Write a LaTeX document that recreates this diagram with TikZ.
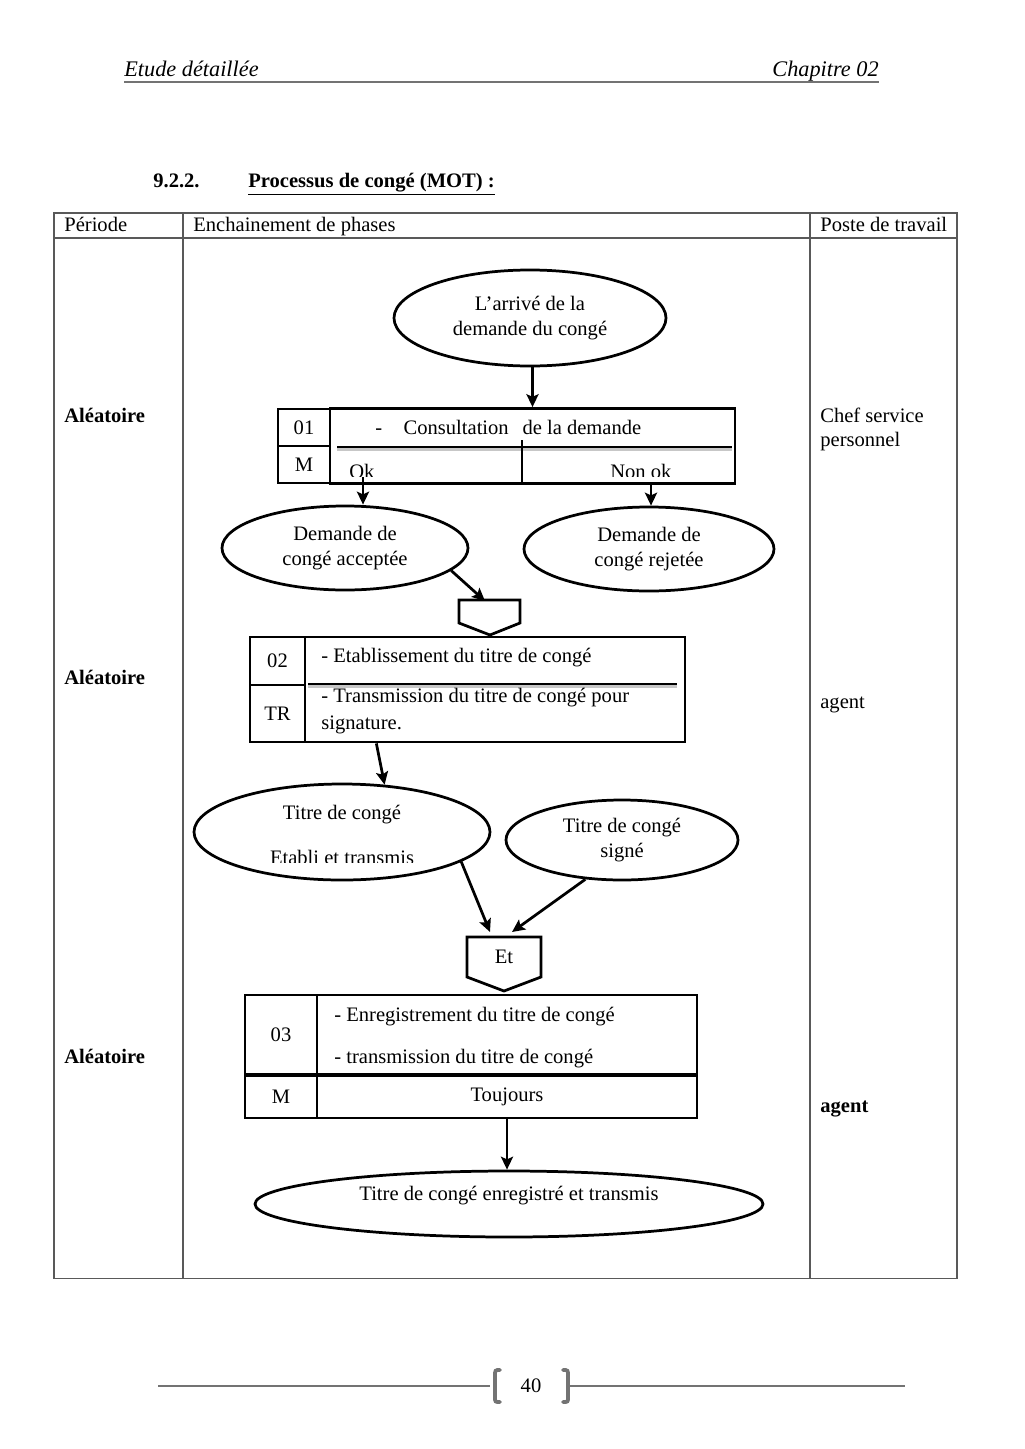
\documentclass[tikz,border=0pt]{standalone}
\usepackage{fontspec}
\setmainfont{Liberation Serif}
\usetikzlibrary{arrows.meta,shapes.geometric,calc}

\def\unitpx{0.5833pt}

\begin{document}
\begin{tikzpicture}[x=0.5833pt,y=-0.5833pt,
            font=\fontsize{12}{15}\selectfont,
            dims/.style 2 args={minimum width=#1*\unitpx,minimum height=#2*\unitpx},
            grid/.style={line width=0.6pt,black!65},
            txt/.style={inner sep=0pt,anchor=base west},
            phase/.style={draw,line width=1.6pt,rectangle,inner sep=0pt},
            event/.style={draw,line width=1.6pt,ellipse,inner sep=0pt,align=center},
            flow/.style={line width=1.6pt,-{Stealth[length=7.5pt,width=7pt,inset=1.5pt]}},
            rule/.style={line width=1.2pt,black!55},
            shade/.style={line width=1.4pt,black!22}
            ]
            \useasboundingbox (0,0) rectangle (1024,1449);

            % page header
            \node[txt,font=\fontsize{13}{15}\selectfont\itshape] (hleft) at (124,77) {Etude détaillée};
            \node[txt,anchor=base east,font=\fontsize{13}{15}\selectfont\itshape] (hright) at (879,77) {Chapitre 02};
            \draw[rule] (124,82) -- (879,82);

            \node[txt,font=\fontsize{12}{15}\selectfont\bfseries] (secnum) at (153,187) {9.2.2.};
            \node[txt,font=\fontsize{12}{15}\selectfont\bfseries] (sectitle) at (248,187) {\underline{Processus de congé (MOT) :}};

            % table
            \draw[grid] (54,213) rectangle (957,1278);
            \draw[grid] (54,238) -- (957,238);
            \draw[grid] (183,213) -- (183,1278);
            \draw[grid] (810,213) -- (810,1278);
            \node[txt] (hper) at (64,231) {Période};
            \node[txt] (hph) at (193,231) {Enchainement de phases};
            \node[txt] (hpos) at (820,231) {Poste de travail};

            \node[txt,font=\fontsize{12}{15}\selectfont\bfseries] (per1) at (64,422) {Aléatoire};
            \node[txt,font=\fontsize{12}{15}\selectfont\bfseries] (per2) at (64,684) {Aléatoire};
            \node[txt,font=\fontsize{12}{15}\selectfont\bfseries] (per3) at (64,1063) {Aléatoire};
            \node[txt,anchor=west,align=left,font=\fontsize{12}{14}\selectfont] (pos1) at (820,429) {Chef service\\personnel};
            \node[txt] (pos2) at (820,708) {agent};
            \node[txt,font=\fontsize{12}{15}\selectfont\bfseries] (pos3) at (820,1112) {agent};

            % phase 01
            \node[event,dims={272}{96}] (arr) at (530,318) {L’arrivé de la\\demande du congé};
            \node[phase,dims={405}{75}] (consult) at (532.5,446) {};
            \node[phase,dims={52}{37}] (c01) at (304,427.5) {01};
            \node[phase,dims={52}{37}] (cm1) at (304,464.5) {M};
            \draw[shade] (337,449.5) -- (732,449.5);
            \draw[line width=1.6pt] (337,447) -- (732,447);
            \draw[line width=1.6pt] (522,440) -- (522,484);
            \node[txt] (cons) at (375,434) {-\hspace{12.5pt}Consultation\hspace{5pt} de la demande};
            \begin{scope}
                \clip (335,450) rectangle (730,476);
                \node[txt] (ok) at (349,478) {Ok};
                \node[txt] (nok) at (610,478) {Non ok};
            \end{scope}
            \draw[flow] (consult.north |- arr.south) -- (consult.north);

            \node[event,dims={246}{84}] (acc) at (345,548) {Demande de\\congé acceptée};
            \node[event,dims={250}{84}] (rej) at (649,549) {Demande de\\congé rejetée};
            \coordinate (okpt) at (363,477);
            \coordinate (nokpt) at (651,484);
            \draw[flow] (okpt) -- (okpt |- acc.north);
            \draw[flow] (nokpt) -- (nokpt |- rej.north);

            % connector to phase 02
            \draw[line width=1.6pt] (459,600) -- (520,600) -- (520,623) -- (490,635) -- (459,623) -- cycle;
            \coordinate (con1) at (490,600);
            \draw[flow] (acc.-12) -- ($(con1)+(-5,1)$);

            % phase 02
            \node[phase,dims={380}{105}] (ph2) at (495,689.5) {};
            \node[phase,dims={55}{48}] (c02) at (277.5,661) {02};
            \node[phase,dims={55}{57}] (ctr) at (277.5,713.5) {TR};
            \draw[shade] (308,686.5) -- (677,686.5);
            \draw[line width=1.6pt] (308,684) -- (677,684);
            \node[txt] (etab) at (321,662) {- Etablissement du titre de congé};
            \node[txt,anchor=west,align=left,font=\fontsize{12}{15.8}\selectfont] (trans) at (321,711) {- Transmission du titre de congé pour\\signature.};

            \node[event,dims={296}{96}] (tetab) at (342,832) {};
            \node[txt,anchor=center] (tetab1) at (342,815) {Titre de congé};
            \begin{scope}
                \clip (200,840) rectangle (480,862);
                \node[txt,anchor=center] (tetab2) at (342,857) {Etabli et transmis};
            \end{scope}
            \node[event,dims={232}{80}] (tsig) at (622,840) {Titre de congé\\signé};
            \draw[flow] ($(ph2.south west)!0.19!(ph2.south east)$) -- (tetab.48);

            % Et connector
            \draw[line width=1.6pt] (467,937) -- (541,937) -- (541,977) -- (504,991) -- (467,977) -- cycle;
            \node[txt,anchor=center] (et) at (504,957) {Et};
            \coordinate (con2) at (504,937);
            \draw[flow] (tetab.-14) -- ($(con2)+(-14,-5)$);
            \draw[flow] (tsig.-133) -- ($(con2)+(8,-5)$);

            % phase 03
            \node[phase,dims={380}{79}] (ph3) at (507,1034.5) {};
            \node[phase,dims={72}{79}] (c03) at (281,1034.5) {03};
            \node[phase,dims={380}{42}] (tj) at (507,1097) {Toujours};
            \node[phase,dims={72}{42}] (cm3) at (281,1097) {M};
            \node[txt] (enr) at (334,1021) {- Enregistrement du titre de congé};
            \begin{scope}
                \clip (325,1040) rectangle (690,1067);
                \node[txt] (tra) at (334,1063) {- transmission du titre de congé};
            \end{scope}

            \node[event,dims={508}{66}] (fin) at (509,1204) {};
            \node[txt,anchor=center] (fintxt) at (509,1196) {Titre de congé enregistré et transmis};
            \draw[flow] (tj.south) -- (tj.south |- fin.north);

            % page footer
            \draw[rule] (158,1386) -- (490,1386);
            \draw[rule] (570,1386) -- (905,1386);
            \draw[rule,line width=2.2pt,line cap=round] (500,1370) .. controls (495,1370) .. (495,1376) -- (495,1397) .. controls (495,1402) .. (500,1402);
            \draw[rule,line width=2.2pt,line cap=round] (563,1370) .. controls (568,1370) .. (568,1376) -- (568,1397) .. controls (568,1402) .. (563,1402);
            \node[txt,anchor=center] (page) at (531,1386) {40};
        \end{tikzpicture}
\end{document}
